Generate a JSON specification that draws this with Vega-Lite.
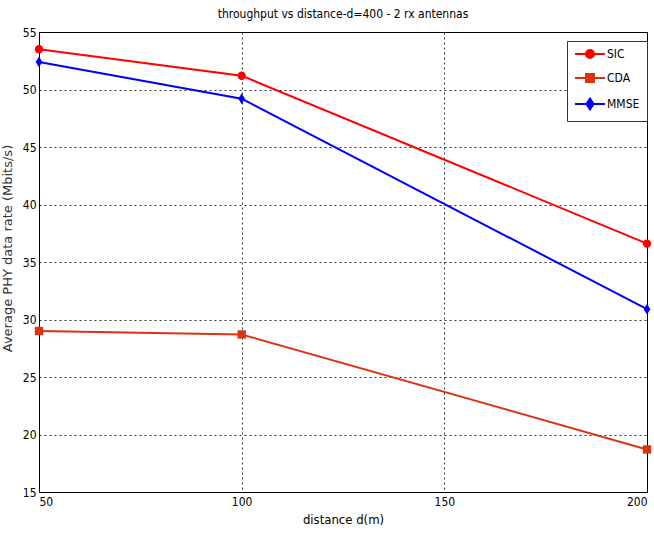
{
  "$schema": "https://vega.github.io/schema/vega-lite/v6.json",
  "autosize": "none",
  "width": 608,
  "height": 460,
  "padding": {"left": 39, "top": 32, "right": 7, "bottom": 44},
  "background": "white",
  "title": {
    "text": "throughput vs distance-d=400 - 2 rx antennas",
    "font": "DejaVu Sans Condensed, Liberation Sans Narrow, Liberation Sans",
    "fontSize": 12,
    "fontWeight": "normal",
    "color": "black",
    "offset": 5
  },
  "config": {
    "view": {"stroke": "black", "strokeWidth": 1},
    "axis": {
      "labelFont": "DejaVu Sans Condensed, Liberation Sans Narrow, Liberation Sans",
      "labelFontSize": 12,
      "labelColor": "black",
      "titleFont": "DejaVu Sans Condensed, Liberation Sans Narrow, Liberation Sans",
      "titleFontSize": 13,
      "titleFontWeight": "normal",
      "titleColor": "black",
      "ticks": false,
      "domain": false,
      "grid": true,
      "gridColor": "black",
      "gridDash": [2, 3],
      "gridOpacity": 0.8,
      "gridWidth": 1
    }
  },
  "data": {
    "values": [
      {"d": 50, "rate": 53.5, "series": "SIC"},
      {"d": 100, "rate": 51.2, "series": "SIC"},
      {"d": 200, "rate": 36.6, "series": "SIC"},
      {"d": 50, "rate": 29.0, "series": "CDA"},
      {"d": 100, "rate": 28.7, "series": "CDA"},
      {"d": 200, "rate": 18.7, "series": "CDA"},
      {"d": 50, "rate": 52.4, "series": "MMSE"},
      {"d": 100, "rate": 49.2, "series": "MMSE"},
      {"d": 200, "rate": 30.9, "series": "MMSE"}
    ]
  },
  "encoding": {
    "x": {
      "field": "d",
      "type": "quantitative",
      "scale": {"domain": [50, 200], "nice": false, "zero": false},
      "axis": {"values": [50, 100, 150, 200], "title": "distance d(m)", "labelPadding": 4, "titlePadding": 6}
    },
    "y": {
      "field": "rate",
      "type": "quantitative",
      "scale": {"domain": [15, 55], "nice": false, "zero": false},
      "axis": {
        "values": [15, 20, 25, 30, 35, 40, 45, 50, 55],
        "title": "Average PHY data rate (Mbits/s)",
        "titleFont": "DejaVu Sans",
        "titleFontSize": 13,
        "titleColor": "#333333",
        "labelPadding": 3,
        "titleX": -25,
        "titleY": 216
      }
    },
    "color": {
      "field": "series",
      "type": "nominal",
      "scale": {"domain": ["SIC", "CDA", "MMSE"], "range": ["#ff0000", "#dd3311", "#0000ff"]}
    }
  },
  "layer": [
    {
      "mark": {"type": "line", "strokeWidth": 2},
      "encoding": {
        "color": {
          "field": "series",
          "type": "nominal",
          "scale": {"domain": ["SIC", "CDA", "MMSE"], "range": ["#ff0000", "#dd3311", "#0000ff"]},
          "legend": {
            "title": null,
            "orient": "none",
            "legendX": 528,
            "legendY": 9,
            "fillColor": "white",
            "strokeColor": "#333333",
            "padding": 7,
            "rowPadding": 8,
            "symbolSize": 100,
            "symbolOffset": 10,
            "labelOffset": 11,
            "labelFont": "DejaVu Sans Condensed, Liberation Sans Narrow, Liberation Sans",
            "labelFontSize": 12,
            "labelColor": "black",
            "encode": {
              "symbols": {
                "update": {
                  "shape": {"signal": "datum.value === 'SIC' ? 'M-3,0H3M0.8,0A0.8,0.8 0 1,1 -0.8,0A0.8,0.8 0 1,1 0.8,0Z' : datum.value === 'CDA' ? 'M-3,0H3M-0.8,-0.8H0.8V0.8H-0.8Z' : 'M-3,0H3M0,-1.1L0.7,0L0,1.1L-0.7,0Z'"},
                  "fill": {"scale": "color", "field": "value"},
                  "stroke": {"scale": "color", "field": "value"},
                  "strokeWidth": {"value": 2},
                  "opacity": {"value": 1}
                }
              }
            }
          }
        }
      }
    },
    {
      "transform": [{"filter": "datum.series === 'SIC'"}],
      "mark": {"type": "point", "filled": true, "opacity": 1, "size": 70, "shape": "circle"},
      "encoding": {
        "color": {"field": "series", "type": "nominal", "legend": null}
      }
    },
    {
      "transform": [{"filter": "datum.series === 'CDA'"}],
      "mark": {"type": "point", "filled": true, "opacity": 1, "size": 70, "shape": "square"},
      "encoding": {
        "color": {"field": "series", "type": "nominal", "legend": null}
      }
    },
    {
      "transform": [{"filter": "datum.series === 'MMSE'"}],
      "mark": {"type": "point", "filled": true, "opacity": 1, "size": 70, "shape": "M0,-1.3L0.8,0L0,1.3L-0.8,0Z"},
      "encoding": {
        "color": {"field": "series", "type": "nominal", "legend": null}
      }
    }
  ]
}
